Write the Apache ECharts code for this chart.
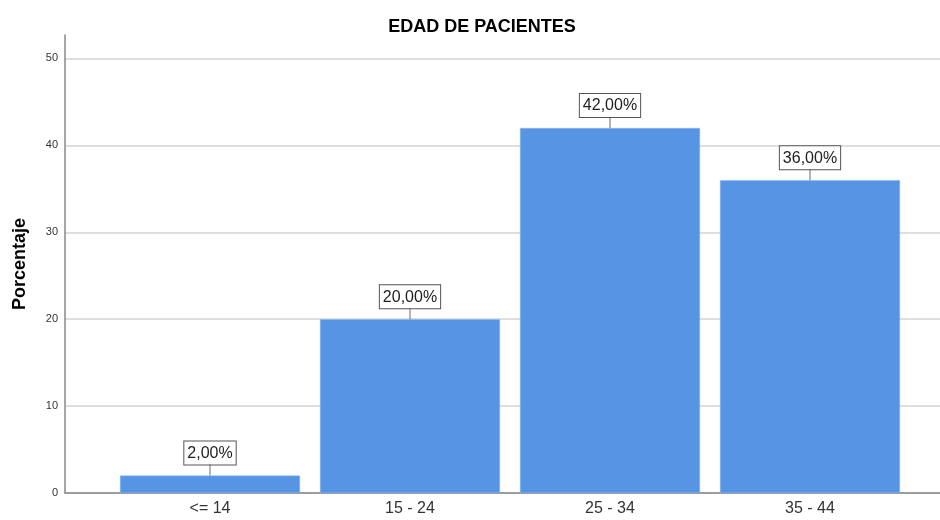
<!DOCTYPE html>
<html><head><meta charset="utf-8">
<script src="https://cdn.jsdelivr.net/npm/echarts@6/dist/echarts.min.js"></script>
<style>html,body{margin:0;padding:0;background:#fff}#c{width:940px;height:520px}</style>
</head><body><div id="c"></div>
<script>
const categories = ['<= 14', '15 - 24', '25 - 34', '35 - 44'];
const percentages = [2, 20, 42, 36];
const yTicks = [0, 10, 20, 30, 40, 50];

const chart = echarts.init(document.getElementById('c'));
const FONT = '"Liberation Sans", Arial, sans-serif';
const TOP = 35, BOTTOM = 27, YMAX = 52.7;
const fmt = v => v.toFixed(2).replace('.', ',') + '%';

chart.setOption({
  animation: false,
  title: {
    text: 'EDAD DE PACIENTES', left: 477, top: 13, textAlign: 'center',
    textStyle: { fontFamily: FONT, fontSize: 18, fontWeight: 'bold', color: '#000' }
  },
  grid: [
    { left: 65, right: 0, top: TOP, bottom: BOTTOM },
    { left: 110, right: 30, top: TOP, bottom: BOTTOM }
  ],
  xAxis: [
    { gridIndex: 0, type: 'category', data: [''], axisTick: { show: false }, axisLabel: { show: false },
      axisLine: { lineStyle: { color: '#888', width: 1.5 } } },
    { gridIndex: 1, type: 'category', data: categories, axisTick: { show: false },
      axisLine: { show: false },
      axisLabel: { fontFamily: FONT, fontSize: 16, color: '#333', margin: 8 } }
  ],
  yAxis: [
    { gridIndex: 0, type: 'value', min: 0, max: YMAX, interval: 10,
      name: 'Porcentaje', nameLocation: 'middle', nameGap: 36,
      nameTextStyle: { fontFamily: FONT, fontSize: 18, fontWeight: 'bold', color: '#000' },
      axisLine: { show: true, lineStyle: { color: '#888', width: 1.5 } },
      axisTick: { show: false },
      axisLabel: { fontFamily: FONT, fontSize: 11, color: '#333', margin: 7,
        showMaxLabel: false,
        formatter: v => yTicks.includes(v) ? String(v) : '' },
      splitLine: { show: true, showMaxLine: false, lineStyle: { color: '#d3d3d3', width: 1.5 } } },
    { gridIndex: 1, type: 'value', min: 0, max: YMAX, show: false, splitLine: { show: false } }
  ],
  series: [
    { type: 'bar', xAxisIndex: 1, yAxisIndex: 1, data: percentages, barCategoryGap: '10%',
      itemStyle: { color: '#5595E4', borderColor: '#8DB6EE', borderWidth: 0.5 },
      label: { show: true, position: 'top', distance: 11, formatter: p => fmt(p.value),
        fontFamily: FONT, fontSize: 16, color: '#222', backgroundColor: '#fff',
        borderColor: '#555', borderWidth: 1, padding: [4, 3, 3, 3] }, z: 2 },
    { type: 'scatter', xAxisIndex: 1, yAxisIndex: 1, data: percentages,
      symbol: 'rect', symbolSize: [1, 11], symbolOffset: [0, -5.5],
      itemStyle: { color: '#444' }, z: 3, silent: true }
  ]
});
</script></body></html>
